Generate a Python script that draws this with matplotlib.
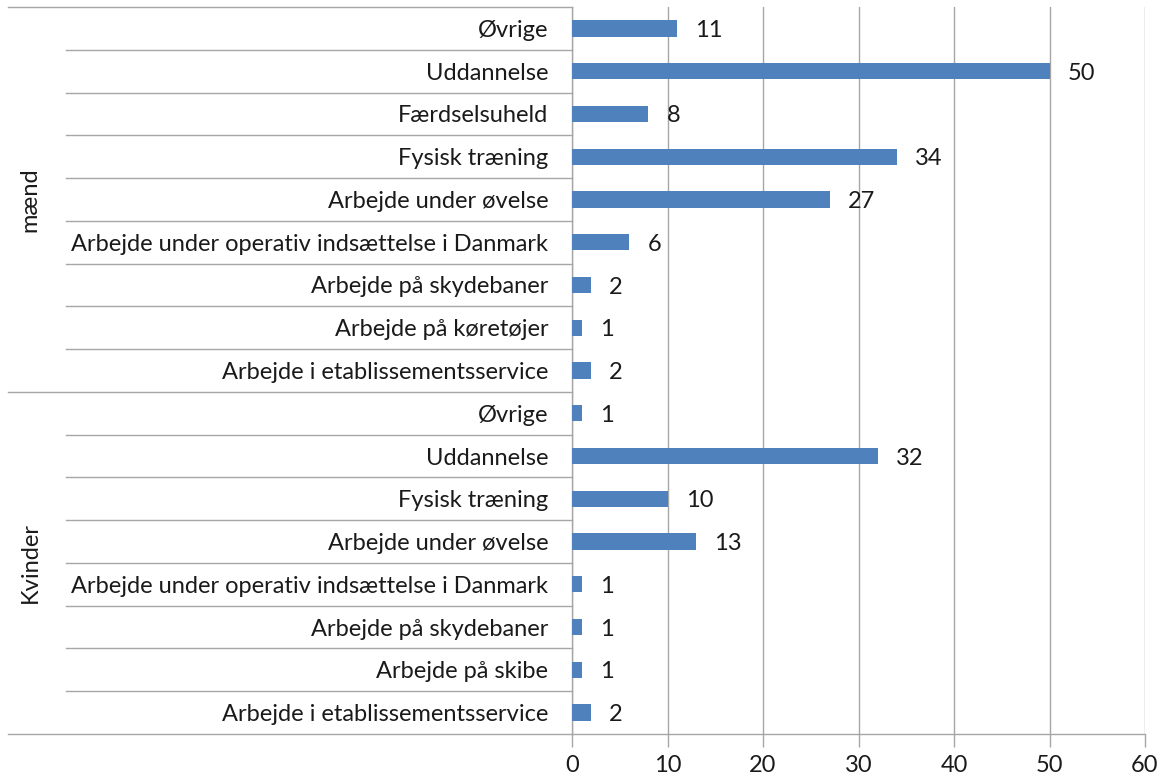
import matplotlib
matplotlib.use("Agg")
import matplotlib.pyplot as plt
import matplotlib.transforms as mtransforms

plt.rcParams['font.family'] = ['Lato', 'DejaVu Sans']

groups = ["mænd", "Kvinder"]
cats_maend = ["Øvrige", "Uddannelse", "Færdselsuheld", "Fysisk træning",
              "Arbejde under øvelse", "Arbejde under operativ indsættelse i Danmark",
              "Arbejde på skydebaner", "Arbejde på køretøjer",
              "Arbejde i etablissementsservice"]
vals_maend = [11, 50, 8, 34, 27, 6, 2, 1, 2]
cats_kvinder = ["Øvrige", "Uddannelse", "Fysisk træning", "Arbejde under øvelse",
                "Arbejde under operativ indsættelse i Danmark",
                "Arbejde på skydebaner", "Arbejde på skibe",
                "Arbejde i etablissementsservice"]
vals_kvinder = [1, 32, 10, 13, 1, 1, 1, 2]
xticks = [0, 10, 20, 30, 40, 50, 60]

cats = cats_maend + cats_kvinder
vals = vals_maend + vals_kvinder
n = len(cats)
ypos = list(range(n))

fig = plt.figure(figsize=(11.68, 7.8), dpi=100)
W, H = 1168, 780
x0, x1, ytop, ybot = 572, 1145, 7, 734
ax = fig.add_axes([x0 / W, 1 - ybot / H, (x1 - x0) / W, (ybot - ytop) / H])

bar_color = "#4F81BD"
grid_color = "#A6A6A6"
text_color = "#1A1A1A"
fs = 17

ax.barh(ypos, vals, height=0.38, color=bar_color, zorder=3)
ax.set_ylim(n - 0.5, -0.5)
ax.set_xlim(0, 60)
ax.set_xticks(xticks)
ax.set_xticklabels([str(t) for t in xticks], fontsize=fs, color=text_color)
ax.tick_params(axis='x', length=9, width=1, color=grid_color, pad=6)
ax.xaxis.grid(True, color=grid_color, linewidth=1, zorder=0)
ax.set_axisbelow(True)

ax.set_yticks(ypos)
ax.set_yticklabels(cats, fontsize=fs, color=text_color)
ax.tick_params(axis='y', length=0, pad=17)

for s in ["top", "right"]:
    ax.spines[s].set_visible(False)
for s in ["left", "bottom"]:
    ax.spines[s].set_color(grid_color)
    ax.spines[s].set_linewidth(1)

# value labels
for y, v in zip(ypos, vals):
    ax.annotate(str(v), xy=(v, y), xytext=(13, -1.5), textcoords="offset points",
                va="center", ha="left", fontsize=fs, color=text_color)

# category separators
trans = mtransforms.blended_transform_factory(ax.transAxes, ax.transData)
inner_x = (66 - x0) / (x1 - x0)
outer_x = (8 - x0) / (x1 - x0)
n1 = len(cats_maend)
for b in range(n + 1):
    yb = b - 0.5
    if b in (0, n1, n):
        xs = outer_x
    else:
        xs = inner_x
    ax.plot([xs, 0], [yb, yb], transform=trans, color=grid_color,
            linewidth=1, clip_on=False)

# group labels
gx = (30 - x0) / (x1 - x0)
ax.text(gx, (n1 - 1) / 2, groups[0], transform=trans, rotation=90,
        ha="center", va="center", fontsize=fs, color=text_color)
ax.text(gx, n1 + (len(cats_kvinder) - 1) / 2, groups[1], transform=trans,
        rotation=90, ha="center", va="center", fontsize=fs, color=text_color)

fig.savefig("out.png", dpi=100, facecolor="white")
